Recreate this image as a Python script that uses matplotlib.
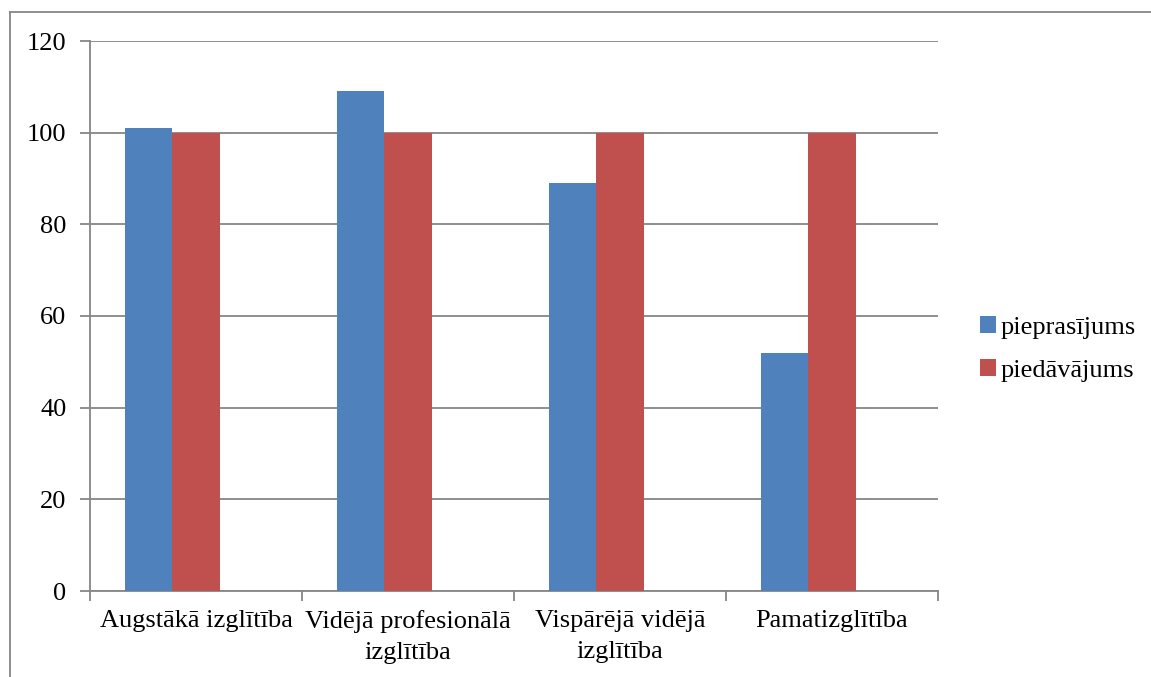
import matplotlib.pyplot as plt
from matplotlib.lines import Line2D
import numpy as np

plt.rcParams['font.family'] = ['Liberation Serif', 'DejaVu Serif']

categories = ['Augstākā izglītība', 'Vidējā profesionālā\nizglītība',
              'Vispārējā vidējā\nizglītība', 'Pamatizglītība']
pieprasijums = [101, 109, 89, 52]
piedavajums = [100, 100, 100, 100]
yticks = [0, 20, 40, 60, 80, 100, 120]

W, H = 1151, 677
fig = plt.figure(figsize=(W / 100, H / 100), dpi=100)
ax = fig.add_axes([90 / W, 1 - 591 / H, (938 - 90) / W, (591 - 41) / H])

grey = '#868686'
x = np.arange(len(categories))
w = 1 / 4.5   # room for three series, the third one is empty
ax.bar(x - w, pieprasijums, w, color='#4f81bd', label='pieprasījums', zorder=3)
ax.bar(x, piedavajums, w, color='#c0504d', label='piedāvājums', zorder=3)

ax.set_xlim(-0.5, len(categories) - 0.5)
ax.set_ylim(0, 120)
ax.set_yticks(yticks)
ax.yaxis.grid(True, color=grey, linewidth=1.3, zorder=0)
ax.set_axisbelow(True)

ax.set_xticks(np.arange(len(categories) + 1) - 0.5)
ax.set_xticklabels([])
ax.set_xticks(x, categories, minor=True)
for lab in ax.get_xticklabels(minor=True):
    lab.set_linespacing(1.5)
ax.tick_params(axis='x', which='minor', length=0, pad=14, labelsize=19)
ax.tick_params(axis='x', which='major', length=7, width=1.3, color=grey)
ax.tick_params(axis='y', length=7, width=1.3, color=grey, labelsize=19, pad=10)

for s in ['top', 'right']:
    ax.spines[s].set_visible(False)
for s in ['left', 'bottom']:
    ax.spines[s].set_color(grey)
    ax.spines[s].set_linewidth(1.3)

ax.legend(loc='center left', bbox_to_anchor=(1.022, 0.44), frameon=False,
          fontsize=19, handlelength=0.6, handleheight=0.6, handletextpad=0.15,
          labelspacing=0.75)

# outer frame of the chart
fig.add_artist(Line2D([10 / W, 1], [1 - 12 / H] * 2, transform=fig.transFigure,
                      color=grey, linewidth=1.3))
fig.add_artist(Line2D([10 / W] * 2, [0, 1 - 12 / H], transform=fig.transFigure,
                      color=grey, linewidth=1.3))

fig.savefig('out.png', dpi=100)
